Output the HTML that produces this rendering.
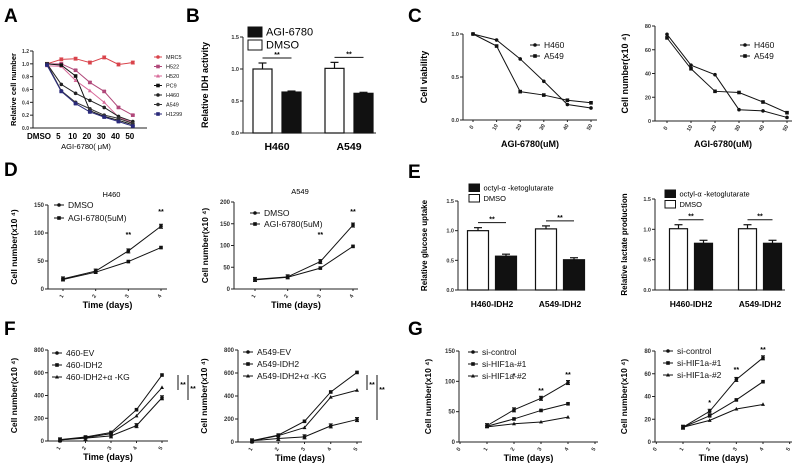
<!DOCTYPE html>
<html><head><meta charset="utf-8">
<style>
html,body{margin:0;padding:0;background:#fff;}
svg{display:block;font-family:"Liberation Sans",Arial,sans-serif;}
</style></head>
<body>
<svg id="fig" width="802" height="473" viewBox="0 0 802 473" xmlns="http://www.w3.org/2000/svg"></svg>
<script>
// ---------- DATA ----------
const aCats = ["DMSO","5","10","20","30","40","50"];
const aNames = ["MRC5","H522","H520","PC9","H460","A549","H1299"];
const aMRC5 = [1.0,1.07,1.08,1.02,1.1,0.99,1.02];
const aH522 = [1.0,1.0,0.9,0.71,0.57,0.32,0.2];
const aH520 = [0.97,0.96,0.74,0.58,0.4,0.17,0.08];
const aPC9 = [1.0,0.98,0.81,0.27,0.18,0.12,0.05];
const aH460 = [1.0,0.68,0.54,0.43,0.32,0.18,0.1];
const aA549 = [1.0,0.58,0.4,0.3,0.2,0.15,0.07];
const aH1299 = [0.98,0.57,0.38,0.25,0.17,0.1,0.03];
const aTicks = [0,0.2,0.4,0.6,0.8,1.0,1.2];

const bGroups = ["H460","A549"];
const bDMSO = [1.0,1.01];
const bAGI = [0.64,0.62];
const bTicks = [0,0.5,1.0,1.5];

const cDoses = [0,10,20,30,40,50];
const c1H460 = [1.0,0.93,0.71,0.45,0.18,0.14];
const c1A549 = [1.0,0.86,0.33,0.29,0.23,0.2];
const c1Ticks = [0,0.5,1.0];
const c2H460 = [73,47,39,9.5,8.5,3];
const c2A549 = [70,44,25,24,16,7];
const c2Ticks = [0,20,40,60,80];

const dDays = [1,2,3,4];
const d1DMSO = [18,32,68,112];
const d1AGI = [17,30,49,74];
const d1Ticks = [0,50,100,150];
const d2DMSO = [22,28,63,147];
const d2AGI = [21,27,48,98];
const d2Ticks = [0,50,100,150,200];

const eGroups = ["H460-IDH2","A549-IDH2"];
const e1DMSO = [1.0,1.03];
const e1Oct = [0.57,0.51];
const e2DMSO = [1.01,1.01];
const e2Oct = [0.77,0.77];
const eTicks = [0,0.5,1.0,1.5];

const fDays = [1,2,3,4,5];
const f1EV = [10,25,45,135,380];
const f1IDH2 = [12,35,75,275,580];
const f1KG = [10,30,65,220,470];
const f2EV = [10,30,45,140,195];
const f2IDH2 = [12,60,180,435,605];
const f2KG = [10,55,125,390,450];
const fTicks = [0,200,400,600,800];

const gDays = [1,2,3,4];
const gXTicks = [0,1,2,3,4,5];
const g1Ctrl = [27,53,72,98];
const g1S1 = [26,38,52,63];
const g1S2 = [25,30,33,41];
const g1Ticks = [0,50,100,150];
const g2Ctrl = [13,27,55,74];
const g2S1 = [13,23,37,53];
const g2S2 = [13,19,29,33];
const g2Ticks = [0,20,40,60,80];

// ---------- HELPERS ----------
const NS="http://www.w3.org/2000/svg";
const svg=document.getElementById('fig');
function mk(tag,attrs,parent,txt){const e=document.createElementNS(NS,tag);for(const k in attrs)e.setAttribute(k,attrs[k]);if(txt!==undefined)e.textContent=txt;(parent||svg).appendChild(e);return e;}
function scale(d0,d1,r0,r1){return v=>r0+(v-d0)/(d1-d0)*(r1-r0);}
function marker(g,shape,x,y,color,s){
  let e;
  if(shape==='square') e=mk('rect',{x:x-s,y:y-s,width:2*s,height:2*s,fill:color},g);
  else if(shape==='tri') e=mk('polygon',{points:`${x},${y-s*1.2} ${x-s*1.1},${y+s*0.8} ${x+s*1.1},${y+s*0.8}`,fill:color},g);
  else e=mk('circle',{cx:x,cy:y,r:s,fill:color},g);
  
  
  return e;
}
function panelLetter(t,x,y){const e=mk('text',{x:x,y:y,'font-size':19,'font-weight':'bold'},svg,t);
  
  }

function axes(g,c,yTicks,ylab,yfmt){
  const y=scale(c.ymin,c.ymax,c.y0,c.y1);
  const ax=mk('line',{x1:c.x0,y1:c.y0,x2:c.x0,y2:c.y1,stroke:'#222','stroke-width':1},g);
  
  
  const bx=mk('line',{x1:c.x0,y1:c.y0,x2:c.xend,y2:c.y0,stroke:'#222','stroke-width':1},g);
  
  
  yTicks.forEach(t=>{
    mk('line',{x1:c.x0-3,y1:y(t),x2:c.x0,y2:y(t),stroke:'#222'},g);
    const tl=mk('text',{x:c.x0-4,y:y(t)+2,'font-size':c.tfs||6,'text-anchor':'end','font-weight':'bold',fill:'#333'},g,yfmt(t));
    
    
  });
  const yl=mk('text',{x:0,y:0,'font-size':c.yfs||9,'font-weight':'bold','text-anchor':'middle',transform:`translate(${c.ylx},${(c.y0+c.y1)/2}) rotate(-90)`},g,ylab);
  
  
  return y;
}
function xTitle(g,t,x,y,fs,bold){const e=mk('text',{x:x,y:y,'font-size':fs||9,'font-weight':bold===false?'normal':'bold','text-anchor':'middle'},g,t);
  
  }

function lineSeries(g,xs,vals,xf,yf,color,shape,ms,err){
  const pts=vals.map((v,i)=>[xf(xs[i]),yf(v)]);
  const pl=mk('polyline',{points:pts.map(p=>p.join(',')).join(' '),fill:'none',stroke:color,'stroke-width':1},g);
  
  
  pts.forEach(p=>{ if(err){mk('line',{x1:p[0],y1:p[1]-err,x2:p[0],y2:p[1]+err,stroke:color},g);mk('line',{x1:p[0]-2,y1:p[1]-err,x2:p[0]+2,y2:p[1]-err,stroke:color},g);mk('line',{x1:p[0]-2,y1:p[1]+err,x2:p[0]+2,y2:p[1]+err,stroke:color},g);}
    marker(g,shape,p[0],p[1],color,ms||1.8);});
}
function legendRow(g,x,y,shape,color,label,fs,len){
  mk('line',{x1:x,y1:y,x2:x+len,y2:y,stroke:color,'stroke-width':1},g);
  marker(g,shape,x+len/2,y,color,1.8);
  const t=mk('text',{x:x+len+4,y:y+fs*0.35,'font-size':fs,fill:'#111'},g,label);
  
  
}
function xTickLabels(g,vals,xf,y0,fs,rot){
  vals.forEach(v=>{
    mk('line',{x1:xf(v),y1:y0,x2:xf(v),y2:y0+2,stroke:'#222'},g);
    const t=mk('text',{x:0,y:0,'font-size':fs,'font-weight':'bold','text-anchor':'middle',fill:'#333',transform:`translate(${xf(v)},${y0+8}) rotate(${rot||0})`},g,String(v));
    
    
  });
}
function star(g,x,y,t){const e=mk('text',{x:x,y:y,'font-size':7,'text-anchor':'middle','font-weight':'bold'},g,t||'**');
  
  }

function barChart(name,c,groups,wv,bv,ticks,ylab,leg1,leg2,legX,legY,legFs,boxH){
  const g=mk('g',{},svg);
  
  
  const y=axes(g,c,ticks,ylab,t=>t.toFixed(1));
  groups.forEach((gn,i)=>{
    const cx=c.gx[i];
    const w=c.bw;
    [[wv[i],'#fff',cx-c.gap/2-w],[bv[i],'#111',cx+c.gap/2]].forEach(([v,fill,x],k)=>{
      const r=mk('rect',{x:x,y:y(v),width:w,height:c.y0-y(v),fill:fill,stroke:'#111','stroke-width':1.2},g);
      
      
      const ee=c.err[k];
      mk('line',{x1:x+w/2,y1:y(v)-ee,x2:x+w/2,y2:y(v),stroke:'#111','stroke-width':1.2},g);
      mk('line',{x1:x+w/2-4,y1:y(v)-ee,x2:x+w/2+4,y2:y(v)-ee,stroke:'#111','stroke-width':1.2},g);
    });
    const lx1=cx-c.gap/2-w/2, lx2=cx+c.gap/2+w/2;
    const ly=y(Math.max(wv[i],bv[i]))-c.err[0]-5;
    mk('line',{x1:lx1,y1:ly,x2:lx2,y2:ly,stroke:'#111'},g);
    star(g,(lx1+lx2)/2,ly-1);
    const gl=mk('text',{x:cx,y:c.y0+c.glOff,'font-size':c.gfs,'font-weight':'bold','text-anchor':'middle'},g,gn);
    
    
  });
  const rows=[['#111',leg1],['#fff',leg2]];
  rows.forEach((r,k)=>{
    const yy=legY+k*(boxH+3);
    mk('rect',{x:legX,y:yy,width:boxH*1.4,height:boxH,fill:r[0],stroke:'#111'},g);
    const t=mk('text',{x:legX+boxH*1.4+4,y:yy+boxH*0.85,'font-size':legFs},g,r[1]);
    
    
  });
}

// ---------- PANEL A ----------
panelLetter('A',4,22);
(function(){
  const g=mk('g',{},svg);
  
  
  const c={x0:33,y0:128,y1:51,ymin:0,ymax:1.2,xend:147,ylx:16,yfs:7.5,tfs:5};
  const y=axes(g,c,aTicks,'Relative  cell number',t=>t.toFixed(1));
  const x=i=>47+i*14.3;
  aCats.forEach((cn,i)=>{
    const t=mk('text',{x:(cn==='DMSO'?39:x(i)-3),y:139,'font-size':8,'font-weight':'bold','text-anchor':'middle'},g,cn);
    
    
  });
  xTitle(g,'AGI-6780( μM)',86,149,7.5,false);
  const idx=aCats.map((_,i)=>i);
  const series=[[aMRC5,'#d9434b','circle',0.022],[aH522,'#b0487a','square',0.012],[aH520,'#d86a9a','tri',0],[aPC9,'#111','square',0],[aH460,'#222','circle',0],[aA549,'#333','circle',0],[aH1299,'#2a2a7a','square',0.01]];
  series.forEach((s,k)=>{
    lineSeries(g,idx,s[0],x,y,s[1],s[2],1.8,s[3]?s[3]*64:0);
    legendRow(g,154,57+k*9.5,s[2],s[1],aNames[k],5.5,8);
  });
})();

// ---------- PANEL B ----------
panelLetter('B',186,22);
barChart('panel-b-chart',{x0:243,y0:133,y1:37,ymin:0,ymax:1.5,xend:376,ylx:208,yfs:9,tfs:5.5,gx:[277,349],bw:19,gap:10,err:[6,1],glOff:17,gfs:10.5},bGroups,bDMSO,bAGI,bTicks,'Relative IDH activity','AGI-6780','DMSO',248,27,11,10);

// ---------- PANEL C ----------
panelLetter('C',408,22);
(function(){
  const g=mk('g',{},svg);
  
  
  const c={x0:463,y0:120,y1:34,ymin:0,ymax:1.0,xend:597,ylx:427,yfs:9,tfs:5.5};
  const y=axes(g,c,c1Ticks,'Cell viability',t=>t.toFixed(1));
  const x=scale(0,50,473,591);
  xTickLabels(g,cDoses,x,120,5.5,-60);
  xTitle(g,'AGI-6780(uM)',530,147,9);
  lineSeries(g,cDoses,c1H460,x,y,'#111','circle',1.8);
  lineSeries(g,cDoses,c1A549,x,y,'#111','square',1.8);
  legendRow(g,530,45,'circle','#111','H460',8.5,10);
  legendRow(g,530,56,'square','#111','A549',8.5,10);
})();
(function(){
  const g=mk('g',{},svg);
  
  
  const c={x0:655,y0:121,y1:26,ymin:0,ymax:80,xend:792,ylx:628,yfs:9,tfs:5.5};
  const y=axes(g,c,c2Ticks,'Cell number(x10  ⁴)',t=>String(t));
  const x=scale(0,50,667,787);
  xTickLabels(g,cDoses,x,121,5.5,-60);
  xTitle(g,'AGI-6780(uM)',723,147,9);
  lineSeries(g,cDoses,c2H460,x,y,'#111','circle',1.8);
  lineSeries(g,cDoses,c2A549,x,y,'#111','square',1.8);
  legendRow(g,740,45,'circle','#111','H460',8.5,10);
  legendRow(g,740,56,'square','#111','A549',8.5,10);
})();

// ---------- PANEL D ----------
panelLetter('D',4,176);
function timeChart(name,c,xs,xticks,series,ticks,names,shapes,legX,legY,legFs,legDy,title,stars){
  const g=mk('g',{},svg);
  
  
  const y=axes(g,c,ticks,'Cell number(x10  ⁴)',t=>String(t));
  const x=scale(xs[0],xs[xs.length-1],c.xa,c.xb);
  xTickLabels(g,xticks,x,c.y0,5.5,-60);
  xTitle(g,'Time (days)',(c.x0+c.xend)/2,c.y0+19,9);
  series.forEach((s,k)=>lineSeries(g,xs,s,x,y,'#111',shapes[k],1.8,k===0?2:0));
  names.forEach((n,k)=>legendRow(g,legX,legY+k*legDy,shapes[k],'#111',n,legFs,10));
  if(title){const t=mk('text',{x:(c.x0+c.xend)/2+4,y:c.y1-8,'font-size':7.5,'text-anchor':'middle'},g,title);
    
    }
  (stars||[]).forEach(s=>star(g,x(s[0]),s[1],s[2]));
  return {g,x,y};
}
timeChart('panel-d-h460-chart',{x0:48,y0:289,y1:205,ymin:0,ymax:150,xend:167,xa:63,xb:161,ylx:17,yfs:8.5},dDays,dDays,[d1DMSO,d1AGI],d1Ticks,['DMSO','AGI-6780(5uM)'],['circle','square'],54,205,8.5,13,'H460',[[3,237],[4,214]]);
timeChart('panel-d-a549-chart',{x0:234,y0:289,y1:202,ymin:0,ymax:200,xend:358,xa:255,xb:353,ylx:208,yfs:8.5},dDays,dDays,[d2DMSO,d2AGI],d2Ticks,['DMSO','AGI-6780(5uM)'],['circle','square'],250,213,8.5,11,'A549',[[3,237],[4,214]]);

// ---------- PANEL E ----------
panelLetter('E',408,178);
barChart('panel-e-glucose-chart',{x0:458,y0:290,y1:201,ymin:0,ymax:1.5,xend:584,ylx:427,yfs:8,tfs:5.5,gx:[492,560],bw:21,gap:7,err:[3,2],glOff:17,gfs:8.5},eGroups,e1DMSO,e1Oct,eTicks,'Relative glucose uptake','octyl-α -ketoglutarate','DMSO',469,184,7.5,7.5);
barChart('panel-e-lactate-chart',{x0:655,y0:290,y1:199,ymin:0,ymax:1.5,xend:785,ylx:627,yfs:8,tfs:5.5,gx:[691,760],bw:18,gap:7,err:[4,3],glOff:17,gfs:8.5},eGroups,e2DMSO,e2Oct,eTicks,'Relative lactate production','octyl-α -ketoglutarate','DMSO',665,190,7.5,7.5);

// ---------- PANEL F ----------
panelLetter('F',4,335);
(function(){
  const r=timeChart('panel-f-460-chart',{x0:48,y0:441,y1:350,ymin:0,ymax:800,xend:168,xa:60,xb:162,ylx:17,yfs:8.5},fDays,fDays,[f1EV,f1IDH2,f1KG],fTicks,['460-EV','460-IDH2','460-IDH2+α -KG'],['circle','square','tri'],52,353,8.5,12);
  mk('line',{x1:178,y1:375,x2:178,y2:390,stroke:'#111'},r.g);star(r.g,183,387);
  mk('line',{x1:188,y1:375,x2:188,y2:400,stroke:'#111'},r.g);star(r.g,193,391);
})();
(function(){
  const r=timeChart('panel-f-a549-chart',{x0:238,y0:442,y1:350,ymin:0,ymax:800,xend:362,xa:252,xb:357,ylx:207,yfs:8.5},fDays,fDays,[f2EV,f2IDH2,f2KG],fTicks,['A549-EV','A549-IDH2','A549-IDH2+α -KG'],['circle','square','tri'],243,352,8.5,12);
  mk('line',{x1:367,y1:375,x2:367,y2:390,stroke:'#111'},r.g);star(r.g,372,387);
  mk('line',{x1:377,y1:375,x2:377,y2:420,stroke:'#111'},r.g);star(r.g,382,392);
})();

// ---------- PANEL G ----------
panelLetter('G',408,335);
timeChart('panel-g-left-chart',{x0:459,y0:442,y1:351,ymin:0,ymax:150,xend:598,xa:487,xb:568,ylx:431,yfs:8.5},gDays,gXTicks,[g1Ctrl,g1S1,g1S2],g1Ticks,['si-control','si-HIF1a-#1','si-HIF1a-#2'],['circle','square','tri'],468,352,8.5,12,null,[[2,378,'*'],[3,393],[4,377]]);
timeChart('panel-g-right-chart',{x0:655,y0:442,y1:351,ymin:0,ymax:80,xend:792,xa:683,xb:763,ylx:627,yfs:8.5},gDays,gXTicks,[g2Ctrl,g2S1,g2S2],g2Ticks,['si-control','si-HIF1a-#1','si-HIF1a-#2'],['circle','square','tri'],663,351,8.5,12,null,[[2,405,'*'],[3,372],[4,352]]);
</script>
</body></html>
